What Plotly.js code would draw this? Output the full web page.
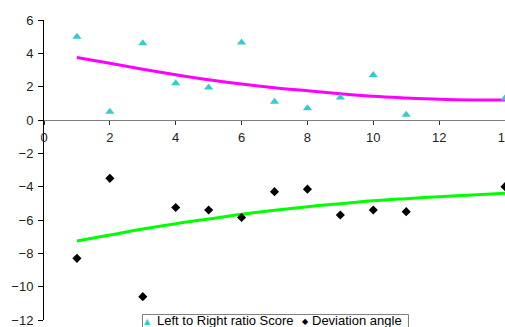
<!DOCTYPE html>
<html>
<head>
<meta charset="utf-8">
<script src="https://cdn.plot.ly/plotly-3.0.1.min.js"></script>
<style>html,body{margin:0;padding:0;overflow:hidden;background:#fff;width:505px;height:327px;}#chart{width:525px;height:327px;}</style>
</head>
<body>
<div id="chart"></div>
<script>
const ratioX = [1, 2, 3, 4, 5, 6, 7, 8, 9, 10, 11, 14];
const ratioScore = [5.0, 0.5, 4.6, 2.2, 1.95, 4.65, 1.1, 0.7, 1.35, 2.7, 0.32, 1.3];
const deviationAngle = [-8.3, -3.5, -10.6, -5.25, -5.4, -5.85, -4.3, -4.15, -5.7, -5.4, -5.5, -4.0];
const trendX = [1, 2, 3, 4, 5, 6, 7, 8, 9, 10, 11, 12, 13, 14];
const ratioTrend = [3.75, 3.4, 3.05, 2.72, 2.42, 2.16, 1.94, 1.76, 1.58, 1.42, 1.32, 1.24, 1.2, 1.2];
const angleTrend = [-7.26, -6.9, -6.54, -6.22, -5.94, -5.66, -5.42, -5.2, -5.02, -4.85, -4.72, -4.6, -4.5, -4.4];
const seriesNames = ['Left to Right ratio Score', 'Deviation angle'];
const seriesColors = ['#33CCCC', '#000000'];

const traces = [
  {x: trendX, y: ratioTrend, mode: 'lines', line: {color: '#FF00FF', width: 3, shape: 'spline'}, showlegend: false, hoverinfo: 'skip'},
  {x: trendX, y: angleTrend, mode: 'lines', line: {color: '#00FF00', width: 3, shape: 'spline'}, showlegend: false, hoverinfo: 'skip'},
  {x: ratioX, y: ratioScore, mode: 'markers', name: seriesNames[0], showlegend: false,
   marker: {symbol: 'triangle-up', color: seriesColors[0], size: 8}},
  {x: ratioX, y: deviationAngle, mode: 'markers', name: seriesNames[1], showlegend: false,
   marker: {symbol: 'diamond', color: seriesColors[1], size: 7}}
];

// plot area: x 44..505 px, y 20..320 px
const px = v => (v - 44) / 461;
const py = v => (320 - v) / 300;

const layout = {
  width: 525, height: 327,
  margin: {l: 44, r: 20, t: 20, b: 7},
  paper_bgcolor: '#ffffff', plot_bgcolor: '#ffffff',
  font: {family: 'Liberation Sans, Arial, sans-serif', size: 13, color: '#222222'},
  showlegend: false,
  xaxis: {range: [0, 14], dtick: 2, tick0: 0, showgrid: false, zeroline: false,
          showline: true, linecolor: '#808080', linewidth: 1,
          ticks: 'outside', ticklen: 4, tickcolor: '#333333', ticklabelstandoff: 1,
          ticklabeloverflow: 'allow',
          anchor: 'free', position: 12/18, fixedrange: true},
  yaxis: {range: [-12, 6], dtick: 2, tick0: 0, showgrid: false, zeroline: false,
          showline: true, linecolor: '#000000', linewidth: 1,
          ticks: 'outside', ticklen: 5, tickcolor: '#000000', ticklabelstandoff: 2,
          ticklabeloverflow: 'allow', fixedrange: true},
  shapes: [
    {type: 'rect', xref: 'paper', yref: 'paper', x0: px(142.5), x1: px(408.5), y0: py(314.5), y1: py(345),
     line: {color: '#808080', width: 1}, fillcolor: '#ffffff', layer: 'above'}
  ],
  annotations: [
    {xref: 'paper', yref: 'paper', x: px(147.5), y: py(321), text: '▲', showarrow: false,
     xanchor: 'center', yanchor: 'middle', font: {family: 'DejaVu Sans', size: 8, color: seriesColors[0]}},
    {xref: 'paper', yref: 'paper', x: px(155), y: py(320.5), text: seriesNames[0], showarrow: false,
     xanchor: 'left', yanchor: 'middle', font: {size: 13, color: '#000000'}},
    {xref: 'paper', yref: 'paper', x: px(305.5), y: py(321), text: '◆', showarrow: false,
     xanchor: 'center', yanchor: 'middle', font: {family: 'DejaVu Sans', size: 8, color: seriesColors[1]}},
    {xref: 'paper', yref: 'paper', x: px(310), y: py(320.5), text: seriesNames[1], showarrow: false,
     xanchor: 'left', yanchor: 'middle', font: {size: 13, color: '#000000'}}
  ]
};

Plotly.newPlot('chart', traces, layout, {displayModeBar: false, staticPlot: true});
</script>
</body>
</html>
